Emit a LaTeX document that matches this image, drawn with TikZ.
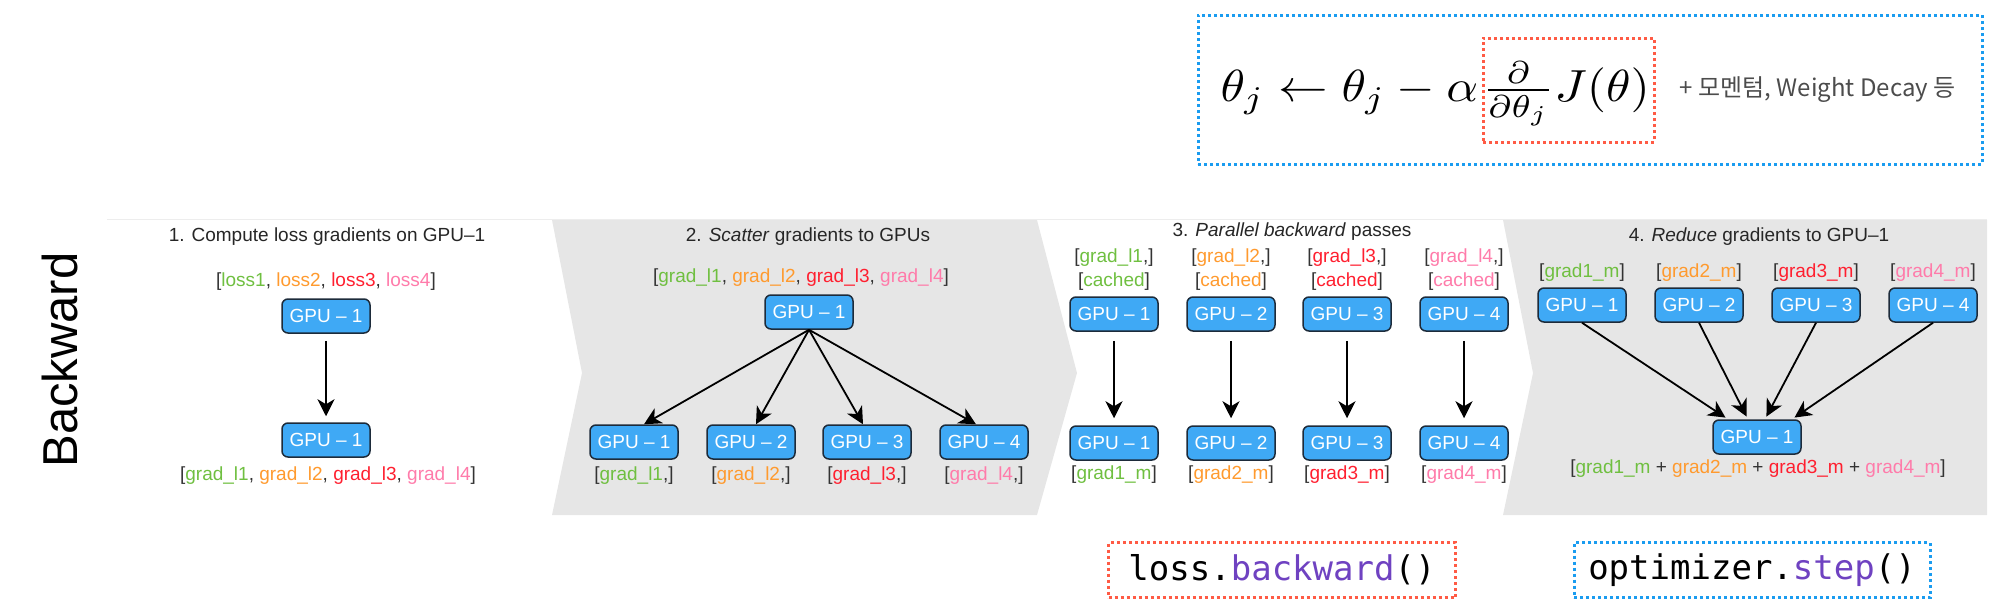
\documentclass[tikz,border=0pt]{standalone}
\usepackage{fontspec}
\setmainfont{Liberation Sans}
\setmonofont{DejaVu Sans Mono}
\newfontfamily\krfont{Noto Sans CJK KR}
\usetikzlibrary{arrows.meta,positioning}
\definecolor{colA}{HTML}{6FBF40}
\definecolor{colB}{HTML}{FF9A2E}
\definecolor{colC}{HTML}{FF1F2F}
\definecolor{colD}{HTML}{FF7BAA}
\definecolor{boxblue}{HTML}{3FA9F5}
\definecolor{boxline}{HTML}{1D2B3A}
\definecolor{panelgrey}{HTML}{E6E6E6}
\definecolor{reddot}{HTML}{FF5B45}
\definecolor{bluedot}{HTML}{1A9CF0}
\definecolor{codepurple}{HTML}{6F42C1}
\newcommand{\colone}[1]{\textcolor{colA}{#1}}
\newcommand{\coltwo}[1]{\textcolor{colB}{#1}}
\newcommand{\colthree}[1]{\textcolor{colC}{#1}}
\newcommand{\colfour}[1]{\textcolor{colD}{#1}}
\begin{document}
\begin{tikzpicture}[x=1pt,y=-1pt,
  gpu/.style={rectangle, rounded corners=6pt, fill=boxblue, draw=boxline, line width=1.5pt,
    minimum width=88pt, minimum height=34pt, inner sep=0pt, text=white, font=\fontsize{19}{22}\selectfont},
  lab/.style={inner sep=0pt, text=black!80, font=\fontsize{19}{24}\selectfont, align=center},
  ttl/.style={inner sep=0pt, text=black!85, font=\fontsize{19}{22}\selectfont},
  arr/.style={line width=1.8pt, -{Stealth[length=17pt,width=17pt,inset=5pt]}},
  dotbox/.style={line width=3pt, dash pattern=on 3pt off 3pt, inner sep=0pt},
  formula/.style={inner sep=0pt, xscale=4.95, yscale=4.5, transform shape}]
\useasboundingbox (0,0) rectangle (2000,611);
% bands
\draw[color=black!7, line width=1pt] (107,219) -- (1987,219);
\fill[panelgrey] (552,220) -- (1037,220) -- (1077,373) -- (1037,515) -- (552,515) -- (582,373) -- cycle;
\fill[panelgrey] (1503,220) -- (1987,220) -- (1987,515) -- (1503,515) -- (1533,373) -- cycle;
\node[rotate=90, inner sep=0pt, font=\fontsize{49}{50}\selectfont] (bw) at (60,360) {Backward};
% 1
\node[ttl] (t1) at (327,237) {1. Compute loss gradients on GPU–1};
\node[lab] (l1) at (326,282) {[\colone{loss1}, \coltwo{loss2}, \colthree{loss3}, \colfour{loss4}]};
\node[gpu] (p1a) at (326,316) {GPU – 1};
\node[gpu] (p1b) at (326,440) {GPU – 1};
\node[lab] (l1b) at (328,476) {[\colone{grad\_l1}, \coltwo{grad\_l2}, \colthree{grad\_l3}, \colfour{grad\_l4}]};
\draw[arr, shorten <=7pt, shorten >=6pt] (p1a) -- (p1b);
% 2
\node[ttl] (t2) at (808,237) {2. \textit{Scatter} gradients to GPUs};
\node[lab] (l2) at (801,278) {[\colone{grad\_l1}, \coltwo{grad\_l2}, \colthree{grad\_l3}, \colfour{grad\_l4}]};
\node[gpu] (p2) at (809,312) {GPU – 1};
\node[gpu] (p2a) at (634,442) {GPU – 1};
\node[gpu] (p2b) at (751,442) {GPU – 2};
\node[gpu] (p2c) at (867,442) {GPU – 3};
\node[gpu] (p2d) at (984,442) {GPU – 4};
\node[lab] (l2a) at (634,476) {[\colone{grad\_l1},]};
\node[lab] (l2b) at (751,476) {[\coltwo{grad\_l2},]};
\node[lab] (l2c) at (867,476) {[\colthree{grad\_l3},]};
\node[lab] (l2d) at (984,476) {[\colfour{grad\_l4},]};
\draw[arr] (p2.south) -- ([xshift=10pt]p2a.north);
\draw[arr] (p2.south) -- ([xshift=5pt]p2b.north);
\draw[arr] (p2.south) -- ([xshift=-4pt]p2c.north);
\draw[arr] (p2.south) -- ([xshift=-8pt]p2d.north);
% 3
\node[ttl] (t3) at (1292,232) {3. \textit{Parallel backward} passes};
\node[lab] (l3a) at (1114,270) {[\colone{grad\_l1},]\\{[}\colone{cached}]};
\node[lab] (l3b) at (1231,270) {[\coltwo{grad\_l2},]\\{[}\coltwo{cached}]};
\node[lab] (l3c) at (1347,270) {[\colthree{grad\_l3},]\\{[}\colthree{cached}]};
\node[lab] (l3d) at (1464,270) {[\colfour{grad\_l4},]\\{[}\colfour{cached}]};
\node[gpu] (p3a) at (1114,314) {GPU – 1};
\node[gpu] (p3b) at (1231,314) {GPU – 2};
\node[gpu] (p3c) at (1347,314) {GPU – 3};
\node[gpu] (p3d) at (1464,314) {GPU – 4};
\node[gpu] (q3a) at (1114,443) {GPU – 1};
\node[gpu] (q3b) at (1231,443) {GPU – 2};
\node[gpu] (q3c) at (1347,443) {GPU – 3};
\node[gpu] (q3d) at (1464,443) {GPU – 4};
\node[lab] (m3a) at (1114,475) {[\colone{grad1\_m}]};
\node[lab] (m3b) at (1231,475) {[\coltwo{grad2\_m}]};
\node[lab] (m3c) at (1347,475) {[\colthree{grad3\_m}]};
\node[lab] (m3d) at (1464,475) {[\colfour{grad4\_m}]};
\draw[arr, shorten <=9pt, shorten >=7pt] (p3a) -- (q3a);
\draw[arr, shorten <=9pt, shorten >=7pt] (p3b) -- (q3b);
\draw[arr, shorten <=9pt, shorten >=7pt] (p3c) -- (q3c);
\draw[arr, shorten <=9pt, shorten >=7pt] (p3d) -- (q3d);
% 4
\node[ttl] (t4) at (1759,237) {4. \textit{Reduce} gradients to GPU–1};
\node[lab] (l4a) at (1582,273) {[\colone{grad1\_m}]};
\node[lab] (l4b) at (1699,273) {[\coltwo{grad2\_m}]};
\node[lab] (l4c) at (1816,273) {[\colthree{grad3\_m}]};
\node[lab] (l4d) at (1933,273) {[\colfour{grad4\_m}]};
\node[gpu] (p4a) at (1582,305) {GPU – 1};
\node[gpu] (p4b) at (1699,305) {GPU – 2};
\node[gpu] (p4c) at (1816,305) {GPU – 3};
\node[gpu] (p4d) at (1933,305) {GPU – 4};
\node[gpu] (p4) at (1757,437) {GPU – 1};
\node[lab] (l4) at (1758,469) {[\colone{grad1\_m} + \coltwo{grad2\_m} + \colthree{grad3\_m} + \colfour{grad4\_m}]};
\draw[arr, shorten >=3pt] (p4a.south) -- ([xshift=-29pt]p4.north);
\draw[arr, shorten >=3pt] (p4b.south) -- ([xshift=-9pt]p4.north);
\draw[arr, shorten >=3pt] (p4c.south) -- ([xshift=8pt]p4.north);
\draw[arr, shorten >=3pt] (p4d.south) -- ([xshift=35pt]p4.north);
% update rule
\node[dotbox, draw=bluedot, minimum width=784pt, minimum height=149pt] (upd) at (1590,89.5) {};
\node[dotbox, draw=reddot, minimum width=171pt, minimum height=104pt] (gbox) at (1568.5,90) {};
\node[formula, anchor=base] (grad) at (1566,101.5) {$\frac{\partial}{\partial\theta_j}J(\theta)$};
\node[formula, anchor=base east] (rule) at ([xshift=-2pt]grad.base west) {$\theta_j \leftarrow \theta_j - \alpha$};
\node[right=24pt of gbox, inner sep=0pt, text=black!70, font=\krfont\fontsize{24}{28}\selectfont] (extra) {+ 모멘텀, Weight Decay 등};
% code
\node[dotbox, draw=reddot, minimum width=347pt, minimum height=55pt, font=\ttfamily\fontsize{34}{40}\selectfont] (bwd) at (1282,570)
  {loss.\textcolor{codepurple}{backward}()};
\node[dotbox, draw=bluedot, minimum width=356pt, minimum height=55pt, font=\ttfamily\fontsize{34}{40}\selectfont] (opt) at (1752,570)
  {optimizer.\textcolor{codepurple}{step}()};
\end{tikzpicture}
\end{document}
